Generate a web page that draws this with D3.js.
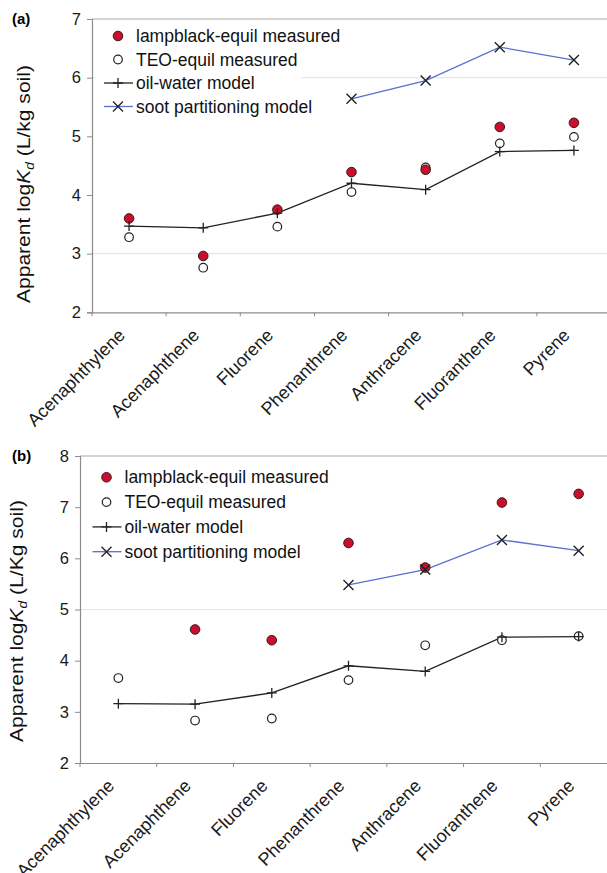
<!DOCTYPE html>
<html>
<head>
<meta charset="utf-8">
<script src="https://cdn.jsdelivr.net/npm/d3@7"></script>
<style>
  html, body { margin: 0; padding: 0; background: #fff; }
  svg { display: block; font-family: "Liberation Sans", Arial, sans-serif; }
</style>
</head>
<body>
<div id="chart"></div>
<script>
// Compounds on the x axis (same for both panels)
const compounds = ['Acenaphthylene', 'Acenaphthene', 'Fluorene', 'Phenanthrene',
                   'Anthracene', 'Fluoranthene', 'Pyrene'];

// Panel (a) values (null = no point)
const aLampblack = [3.60, 2.96, 3.75, 4.39, 4.43, 5.16, 5.23];
const aTeo       = [3.28, 2.76, 3.46, 4.05, 4.47, 4.88, 4.99];
const aOilWater  = [3.47, 3.44, 3.69, 4.20, 4.09, 4.74, 4.76];
const aSoot      = [null, null, null, 5.64, 5.95, 6.52, 6.30];
const aTicks     = [2, 3, 4, 5, 6, 7];
const aGrid      = [3, 6];

// Panel (b) values
const bLampblack = [null, 4.61, 4.40, 6.30, 5.82, 7.09, 7.26];
const bTeo       = [3.66, 2.83, 2.87, 3.62, 4.30, 4.40, 4.48];
const bOilWater  = [3.16, 3.15, 3.37, 3.90, 3.79, 4.46, 4.47];
const bSoot      = [null, null, null, 5.48, 5.78, 6.36, 6.15];
const bTicks     = [2, 3, 4, 5, 6, 7, 8];
const bGrid      = [5];

const legendLabels = ['lampblack-equil measured', 'TEO-equil measured',
                      'oil-water model', 'soot partitioning model'];

const W = 607, H = 873;
const RED = '#c8102e', BLUE = '#5b6fd0', AXIS = '#8c8c8c';

const svg = d3.select('#chart').append('svg')
    .attr('width', W)
    .attr('height', H);

function drawPanel(p) {
    const g = svg.append('g');

    const x = d3.scaleBand().domain(compounds).range([p.left, p.right]).padding(0);
    const y = d3.scaleLinear().domain(p.domain).range([p.bottom, p.top]);
    const cx = d => x(d) + x.bandwidth() / 2;

    // Gridlines (only the ones that show in the original)
    g.selectAll('.grid')
        .data(p.grid)
        .join('line')
        .attr('x1', p.left).attr('x2', W)
        .attr('y1', d => y(d)).attr('y2', d => y(d))
        .attr('stroke', '#e2e6ea')
        .attr('stroke-width', 1.2);

    // Top border of the plot area
    g.append('line')
        .attr('x1', p.left).attr('x2', W)
        .attr('y1', p.top).attr('y2', p.top)
        .attr('stroke', '#aaa')
        .attr('stroke-width', 1.2);

    // Y axis
    const yAxis = g.append('g')
        .attr('transform', `translate(${p.left},0)`)
        .call(d3.axisLeft(y).tickValues(p.ticks).tickSize(5).tickPadding(6).tickFormat(d3.format('d')));
    yAxis.select('.domain').attr('stroke', AXIS).attr('stroke-width', 1.2);
    yAxis.selectAll('.tick line').attr('stroke', AXIS);
    yAxis.selectAll('.tick text')
        .attr('font-size', 16.5)
        .attr('fill', '#1a1a1a')
        .attr('font-family', '"Liberation Sans", Arial, sans-serif');

    // X axis: ticks at band edges, labels at band centres
    const xAxis = g.append('g')
        .attr('transform', `translate(0,${p.bottom})`)
        .call(d3.axisBottom(x).tickSize(0).tickPadding(0));
    xAxis.select('.domain').attr('stroke', AXIS).attr('stroke-width', 1.2);
    xAxis.selectAll('.tick text')
        .attr('font-size', 18)
        .attr('fill', '#1a1a1a')
        .attr('font-family', '"Liberation Sans", Arial, sans-serif')
        .attr('text-anchor', 'end')
        .attr('dy', 0)
        .attr('y', 0)
        .attr('transform', 'translate(-3,24) rotate(-45)');

    g.selectAll('.xtick')
        .data(compounds)
        .join('line')
        .attr('x1', d => x(d)).attr('x2', d => x(d))
        .attr('y1', p.bottom).attr('y2', p.bottom + 4)
        .attr('stroke', AXIS);

    // Legend box (white background hides gridlines behind it)
    if (p.legendBox) {
        g.append('rect')
            .attr('x', p.legendBox[0]).attr('y', p.legendBox[1])
            .attr('width', p.legendBox[2]).attr('height', p.legendBox[3])
            .attr('fill', '#fff');
    }

    const idx = compounds.map((c, i) => i);

    // Oil-water model line
    const line = d3.line()
        .defined(i => p.oil[i] != null)
        .x(i => cx(compounds[i]))
        .y(i => y(p.oil[i]));
    g.append('path')
        .attr('d', line(idx))
        .attr('fill', 'none')
        .attr('stroke', '#222')
        .attr('stroke-width', 1.3);

    // Soot partitioning model line
    const sootIdx = idx.filter(i => p.soot[i] != null);
    const sootLine = d3.line()
        .x(i => cx(compounds[i]))
        .y(i => y(p.soot[i]));
    g.append('path')
        .attr('d', sootLine(sootIdx))
        .attr('fill', 'none')
        .attr('stroke', BLUE)
        .attr('stroke-width', 1.3);

    // Measured points
    g.selectAll('.teo')
        .data(idx.filter(i => p.teo[i] != null))
        .join('circle')
        .attr('cx', i => cx(compounds[i]))
        .attr('cy', i => y(p.teo[i]))
        .attr('r', 4.3)
        .attr('fill', '#fff')
        .attr('stroke', '#222')
        .attr('stroke-width', 1.2);

    g.selectAll('.lamp')
        .data(idx.filter(i => p.lamp[i] != null))
        .join('circle')
        .attr('cx', i => cx(compounds[i]))
        .attr('cy', i => y(p.lamp[i]))
        .attr('r', 4.8)
        .attr('fill', RED)
        .attr('stroke', '#3a1a1a')
        .attr('stroke-width', 1);

    // Plus markers (oil-water) and cross markers (soot)
    const plus = 'M-5,0H5M0,-5V5';
    const cross = 'M-5,-5L5,5M-5,5L5,-5';
    g.selectAll('.plus')
        .data(idx.filter(i => p.oil[i] != null))
        .join('path')
        .attr('transform', i => `translate(${cx(compounds[i])},${y(p.oil[i])})`)
        .attr('d', plus)
        .attr('stroke', '#222')
        .attr('stroke-width', 1.3);
    g.selectAll('.cross')
        .data(sootIdx)
        .join('path')
        .attr('transform', i => `translate(${cx(compounds[i])},${y(p.soot[i])})`)
        .attr('d', cross)
        .attr('stroke', '#222')
        .attr('stroke-width', 1.4);

    // Legend
    const lg = g.append('g');
    legendLabels.forEach((lab, k) => {
        const ly = p.legend.y0 + k * p.legend.dy;
        const sx = p.legend.x;
        if (k === 0) {
            lg.append('circle').attr('cx', sx).attr('cy', ly).attr('r', 4.8)
                .attr('fill', RED).attr('stroke', '#3a1a1a');
        } else if (k === 1) {
            lg.append('circle').attr('cx', sx).attr('cy', ly).attr('r', 4.3)
                .attr('fill', '#fff').attr('stroke', '#222').attr('stroke-width', 1.2);
        } else {
            lg.append('line')
                .attr('x1', sx - 14).attr('x2', sx + 15)
                .attr('y1', ly).attr('y2', ly)
                .attr('stroke', k === 2 ? '#222' : BLUE)
                .attr('stroke-width', 1.3);
            lg.append('path')
                .attr('transform', `translate(${sx},${ly})`)
                .attr('d', k === 2 ? plus : cross)
                .attr('stroke', '#222')
                .attr('stroke-width', 1.3);
        }
        lg.append('text')
            .attr('x', sx + 18)
            .attr('y', ly)
            .attr('dy', '0.35em')
            .attr('font-size', 17.5)
            .attr('fill', '#111')
            .text(lab);
    });

    // Panel letter
    g.append('text')
        .attr('x', p.letterX).attr('y', p.top)
        .attr('dy', '0.35em')
        .attr('font-size', 15)
        .attr('font-weight', 'bold')
        .text(p.letter);

    // Y axis title
    const t = g.append('text')
        .attr('transform', `translate(${p.titleX},${(p.top + p.bottom) / 2 + p.titleShift}) rotate(-90)`)
        .attr('text-anchor', 'middle')
        .attr('font-size', 18.5)
        .attr('textLength', p.titleLen)
        .attr('lengthAdjust', 'spacingAndGlyphs')
        .attr('fill', '#111');
    t.append('tspan').text('Apparent log');
    t.append('tspan').attr('font-style', 'italic').text('K');
    t.append('tspan').attr('font-style', 'italic').attr('font-size', 12).attr('dy', 4).text('d');
    t.append('tspan').attr('dy', -4).text(' ' + p.unit);
}

drawPanel({
    left: 92, right: 611, top: 19, bottom: 312.3,
    domain: [2, 7], ticks: aTicks, grid: aGrid,
    lamp: aLampblack, teo: aTeo, oil: aOilWater, soot: aSoot,
    legend: { x: 118, y0: 36, dy: 23.5 },
    legendBox: [95, 22, 206, 96],
    letter: '(a)', letterX: 12,
    titleX: 30, titleShift: 18.4, titleLen: 238, unit: '(L/kg soil)'
});

drawPanel({
    left: 80, right: 617, top: 456, bottom: 763,
    domain: [2, 8], ticks: bTicks, grid: bGrid,
    lamp: bLampblack, teo: bTeo, oil: bOilWater, soot: bSoot,
    legend: { x: 106.5, y0: 477.3, dy: 24.8 },
    legendBox: null,
    letter: '(b)', letterX: 12,
    titleX: 22.5, titleShift: 11.5, titleLen: 242, unit: '(L/Kg soil)'
});
</script>
</body>
</html>
